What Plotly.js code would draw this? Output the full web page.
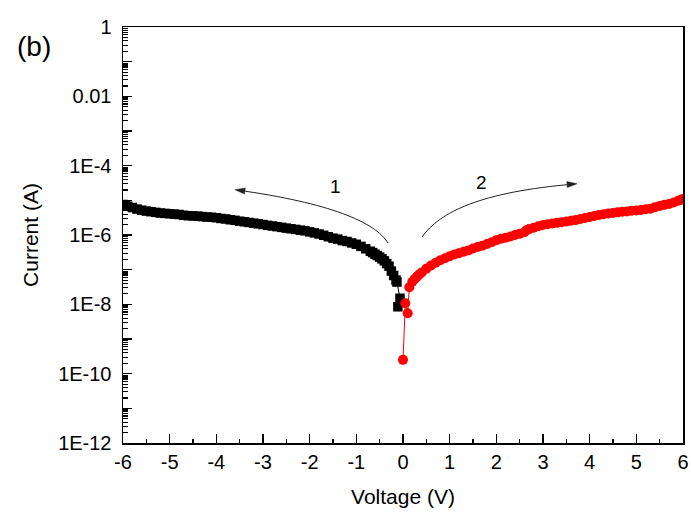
<!DOCTYPE html>
<html>
<head>
<meta charset="utf-8">
<script src="https://cdn.plot.ly/plotly-3.0.1.min.js"></script>
<style>html,body{margin:0;padding:0;background:#fff;}#chart{width:691px;height:513px;}</style>
</head>
<body>
<div id="chart"></div>
<script>
// Sweep 1: 0 V -> -6 V (black squares)
const vNeg = [-6.0,-5.95,-5.9,-5.8,-5.7,-5.6,-5.5,-5.4,-5.3,-5.2,-5.1,
  -5.0,-4.9,-4.8,-4.7,-4.6,-4.5,-4.4,-4.3,-4.2,-4.1,
  -4.0,-3.9,-3.8,-3.7,-3.6,-3.5,-3.4,-3.3,-3.2,-3.1,
  -3.0,-2.9,-2.8,-2.7,-2.6,-2.5,-2.4,-2.3,-2.2,-2.1,
  -2.0,-1.9,-1.8,-1.7,-1.6,-1.5,-1.4,-1.3,-1.2,-1.1,
  -1.0,-0.9,-0.8,-0.7,-0.65,-0.6,-0.55,-0.5,-0.45,-0.4,-0.35,-0.3,-0.25,-0.2,-0.15,-0.13,-0.065,-0.11];
const iNeg = [7.6e-6,7.2e-6,6.8e-6,6.2e-6,5.6e-6,5.2e-6,4.9e-6,4.7e-6,4.5e-6,4.3e-6,4.2e-6,
  4.1e-6,4.0e-6,3.9e-6,3.7e-6,3.6e-6,3.55e-6,3.5e-6,3.4e-6,3.3e-6,3.25e-6,
  3.15e-6,3.0e-6,2.9e-6,2.75e-6,2.65e-6,2.5e-6,2.4e-6,2.3e-6,2.2e-6,2.1e-6,
  2.0e-6,1.9e-6,1.82e-6,1.74e-6,1.66e-6,1.58e-6,1.51e-6,1.45e-6,1.38e-6,1.32e-6,
  1.23e-6,1.15e-6,1.07e-6,9.8e-7,8.9e-7,8.1e-7,7.6e-7,6.9e-7,6.5e-7,5.9e-7,
  5.4e-7,4.7e-7,4.0e-7,3.4e-7,3.1e-7,2.8e-7,2.55e-7,2.3e-7,2.05e-7,1.8e-7,1.5e-7,1.26e-7,9.1e-8,6.8e-8,5.0e-8,4.4e-8,1.5e-8,8.5e-9];

// Sweep 2: 0 V -> +6 V (red circles)
const vPos = [0.0,0.05,0.1,0.135,0.2,0.25,0.3,0.35,0.4,0.5,0.6,0.7,0.8,0.9,
  1.0,1.1,1.2,1.3,1.4,1.5,1.6,1.7,1.8,1.9,
  2.0,2.1,2.2,2.3,2.4,2.5,2.6,2.65,2.7,2.8,2.9,
  3.0,3.1,3.2,3.3,3.4,3.5,3.6,3.7,3.8,3.9,
  4.0,4.1,4.2,4.3,4.4,4.5,4.6,4.7,4.8,4.9,
  5.0,5.1,5.2,5.3,5.4,5.5,5.6,5.7,5.8,5.9,5.95,6.0];
const iPos = [2.5e-10,1.07e-8,5.5e-9,3.1e-8,4.5e-8,5.4e-8,6.3e-8,7.3e-8,8.3e-8,1.07e-7,1.32e-7,1.58e-7,1.86e-7,2.14e-7,
  2.45e-7,2.75e-7,3.0e-7,3.3e-7,3.6e-7,4.1e-7,4.5e-7,4.9e-7,5.5e-7,6.2e-7,
  7.1e-7,7.8e-7,8.3e-7,9.1e-7,1.0e-6,1.08e-6,1.2e-6,1.38e-6,1.48e-6,1.62e-6,1.78e-6,
  1.95e-6,2.04e-6,2.14e-6,2.24e-6,2.34e-6,2.45e-6,2.57e-6,2.69e-6,2.88e-6,3.1e-6,
  3.3e-6,3.55e-6,3.8e-6,4.0e-6,4.2e-6,4.3e-6,4.5e-6,4.7e-6,4.8e-6,5.0e-6,
  5.1e-6,5.25e-6,5.5e-6,5.75e-6,6.3e-6,6.9e-6,7.4e-6,7.9e-6,8.7e-6,9.8e-6,1.04e-5,1.1e-5];

const yTickVals = [1e-12,1e-11,1e-10,1e-9,1e-8,1e-7,1e-6,1e-5,1e-4,1e-3,1e-2,1e-1,1];
const yTickText = ["1E-12","","1E-10","","1E-8","","1E-6","","1E-4","","0.01","","1"];
const xTickVals = [-6,-5,-4,-3,-2,-1,0,1,2,3,4,5,6];
const xTickText = ["-6","-5","-4","-3","-2","-1","0","1","2","3","4","5","6"];
const arrowLabels = ["1","2"];
const panelLabel = "(b)";

const yMinor = [];
for (let e = -12; e < 0; e++) {
  for (let m = 2; m <= 9; m++) yMinor.push(m * Math.pow(10, e));
}

const FONT = "Arial, 'Liberation Sans', sans-serif";

const traces = [
  {x: vNeg, y: iNeg, type: 'scatter', mode: 'lines+markers',
   line: {color: '#000', width: 1},
   marker: {symbol: 'square', size: 9.5, color: '#000', line: {width: 0}}},
  {x: vPos, y: iPos, type: 'scatter', mode: 'lines+markers',
   line: {color: '#ff0000', width: 1},
   marker: {symbol: 'circle', size: 10, color: '#ff0000', line: {width: 0}}}
];

const layout = {
  width: 691, height: 513,
  margin: {l: 123, r: 8, t: 27, b: 70},
  paper_bgcolor: '#fff', plot_bgcolor: '#fff',
  showlegend: false,
  font: {family: FONT, color: '#000', size: 20},
  xaxis: {
    range: [-6, 6], tickmode: 'array', tickvals: xTickVals, ticktext: xTickText,
    ticks: 'inside', ticklen: 9, tickwidth: 1.5, tickcolor: '#000',
    showline: true, linecolor: '#000', linewidth: 1.5, mirror: true,
    showgrid: false, zeroline: false,
    tickfont: {family: FONT, size: 20, color: '#000'},
    minor: {dtick: 0.5, ticks: 'inside', ticklen: 4.5, tickwidth: 1.5, tickcolor: '#000', showgrid: false},
    title: {text: 'Voltage (V)', font: {family: FONT, size: 21, color: '#000'}, standoff: 18}
  },
  yaxis: {
    type: 'log', range: [-12, 0], tickmode: 'array', tickvals: yTickVals, ticktext: yTickText,
    ticks: 'inside', ticklen: 9, tickwidth: 1.5, tickcolor: '#000',
    showline: true, linecolor: '#000', linewidth: 1.5, mirror: true,
    showgrid: false, zeroline: false, ticklabelstandoff: 6,
    tickfont: {family: FONT, size: 20, color: '#000'},
    minor: {tickmode: 'array', tickvals: yMinor, ticks: 'inside', ticklen: 5, tickwidth: 1.2, tickcolor: '#000', showgrid: false},
    title: {text: 'Current (A)', font: {family: FONT, size: 21, color: '#000'}, standoff: 14}
  },
  shapes: [
    {type: 'path', xref: 'paper', yref: 'paper',
     path: 'M 0.4732 0.4808 C 0.45 0.53125 0.36964 0.57692 0.20357 0.60817',
     line: {color: '#222', width: 1}},
    {type: 'path', xref: 'paper', yref: 'paper',
     path: 'M 0.2 0.6089 L 0.21696 0.59832 L 0.21839 0.61274 Z',
     fillcolor: '#222', line: {color: '#222', width: 0.5}},
    {type: 'path', xref: 'paper', yref: 'paper',
     path: 'M 0.53393 0.49519 C 0.56607 0.55529 0.6375 0.60337 0.80714 0.6226',
     line: {color: '#222', width: 1}},
    {type: 'path', xref: 'paper', yref: 'paper',
     path: 'M 0.81071 0.62308 L 0.79339 0.61394 L 0.7925 0.62837 Z',
     fillcolor: '#222', line: {color: '#222', width: 0.5}}
  ],
  annotations: [
    {xref: 'paper', yref: 'paper', x: 0.3786, y: 0.6154, text: arrowLabels[0], showarrow: false,
     font: {family: FONT, size: 19, color: '#000'}, xanchor: 'center', yanchor: 'middle'},
    {xref: 'paper', yref: 'paper', x: 0.6393, y: 0.6274, text: arrowLabels[1], showarrow: false,
     font: {family: FONT, size: 19, color: '#000'}, xanchor: 'center', yanchor: 'middle'},
    {xref: 'paper', yref: 'paper', x: -0.159, y: 0.954, text: panelLabel, showarrow: false,
     font: {family: FONT, size: 28, color: '#000'}, xanchor: 'center', yanchor: 'middle'}
  ]
};

Plotly.newPlot('chart', traces, layout, {staticPlot: true, displayModeBar: false});
</script>
</body>
</html>
